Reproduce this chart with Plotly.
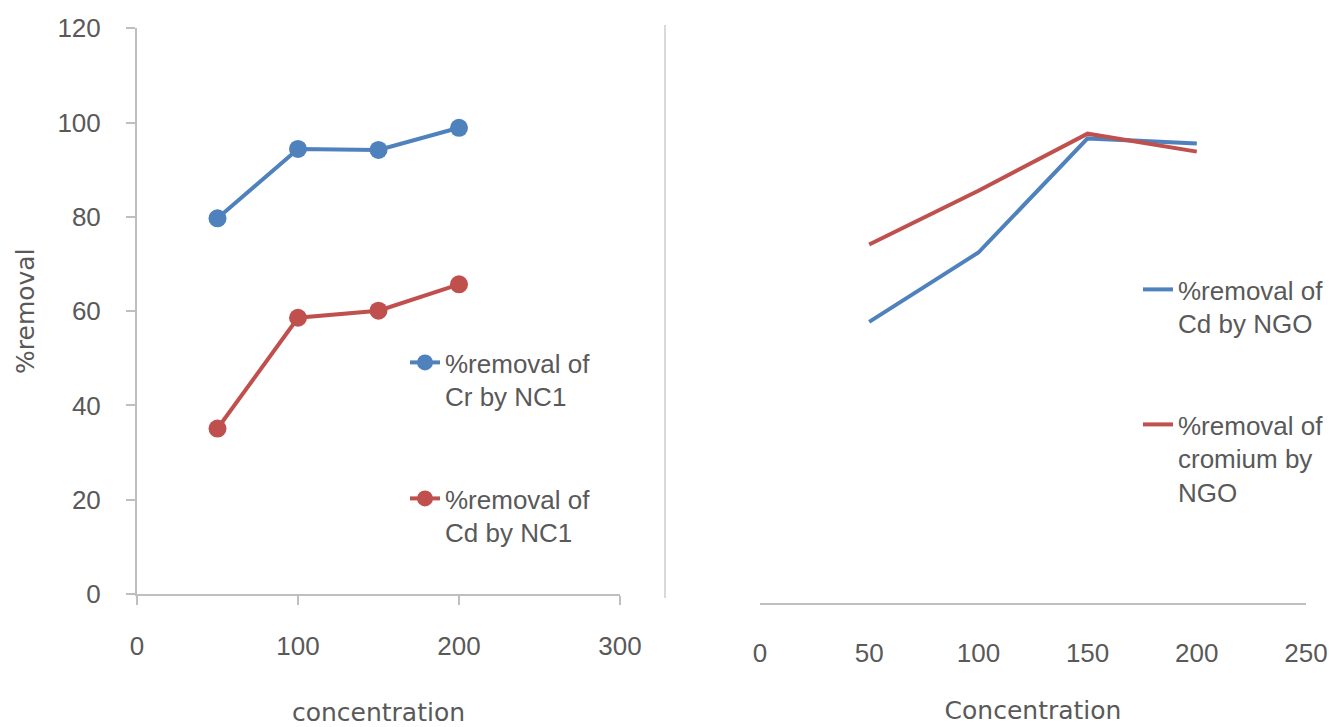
import plotly.graph_objects as go

# Adsorbent NC1 (left panel)
conc_nc1 = [50, 100, 150, 200]
cr_by_nc1 = [79.7, 94.4, 94.2, 98.9]
cd_by_nc1 = [35.1, 58.6, 60.1, 65.7]

# Adsorbent NGO (right panel)
conc_ngo = [50, 100, 150, 200]
cd_by_ngo = [59.6, 74.3, 98.5, 97.4]
cr_by_ngo = [76.0, 87.4, 99.5, 95.7]

left_xticks = [0, 100, 200, 300]
left_yticks = [0, 20, 40, 60, 80, 100, 120]
right_xticks = [0, 50, 100, 150, 200, 250]

W, H = 1329, 727
BLUE = "#4F81BD"
RED = "#C0504D"
TXT = "#595959"
AXC = "#BFBFBF"
NARROW = "Liberation Sans Narrow, Arial Narrow, Liberation Sans, sans-serif"
WIDE = "DejaVu Sans, sans-serif"


def px(x):
    return x / W


def py(y):
    return 1 - y / H


fig = go.Figure()

fig.add_trace(go.Scatter(
    x=conc_nc1, y=cr_by_nc1, mode="lines+markers",
    name="%removal of<br>Cr by NC1",
    line=dict(color=BLUE, width=4), marker=dict(size=18, color=BLUE),
    xaxis="x", yaxis="y", legend="legend",
))
fig.add_trace(go.Scatter(
    x=conc_nc1, y=cd_by_nc1, mode="lines+markers",
    name="%removal of<br>Cd by NC1",
    line=dict(color=RED, width=4), marker=dict(size=18, color=RED),
    xaxis="x", yaxis="y", legend="legend2",
))
fig.add_trace(go.Scatter(
    x=conc_ngo, y=cd_by_ngo, mode="lines",
    name="%removal of<br>Cd by NGO",
    line=dict(color=BLUE, width=4),
    xaxis="x2", yaxis="y2", legend="legend3",
))
fig.add_trace(go.Scatter(
    x=conc_ngo, y=cr_by_ngo, mode="lines",
    name="%removal of<br>cromium by<br>NGO",
    line=dict(color=RED, width=4),
    xaxis="x2", yaxis="y2", legend="legend4",
))

tickfont = dict(family=NARROW, size=26, color=TXT)
titlefont = dict(family=WIDE, size=25, color=TXT)
legfont = dict(family=NARROW, size=26, color=TXT)


def leg(x, y, xanchor="left"):
    return dict(x=x, y=py(y), xanchor=xanchor, yanchor="top",
                font=legfont, bgcolor="rgba(0,0,0,0)", borderwidth=0,
                valign="top", tracegroupgap=0, visible=True)


fig.update_layout(
    width=W, height=H,
    showlegend=True,
    margin=dict(l=0, r=0, t=0, b=0),
    paper_bgcolor="white", plot_bgcolor="white",
    xaxis=dict(
        domain=[px(137), px(620)], range=[0, 300], tickvals=left_xticks,
        showgrid=False, zeroline=False, showline=True, linecolor=AXC, linewidth=2,
        ticks="outside", ticklen=9, tickwidth=2, tickcolor=AXC,
        tickfont=tickfont, ticklabelstandoff=19, automargin=False,
        title=dict(text="concentration", font=titlefont, standoff=52),
        anchor="y",
    ),
    yaxis=dict(
        domain=[py(594), py(28.3)], range=[0, 120], tickvals=left_yticks,
        showgrid=False, zeroline=False, showline=True, linecolor=AXC, linewidth=2,
        ticks="outside", ticklen=9, tickwidth=2, tickcolor=AXC,
        tickfont=tickfont, ticklabelstandoff=20, automargin=False,
        title=dict(text="%removal", font=titlefont, standoff=16),
        anchor="x",
    ),
    xaxis2=dict(
        domain=[px(760), px(1306)], range=[0, 250], tickvals=right_xticks,
        showgrid=False, zeroline=False, showline=True, linecolor=AXC, linewidth=2,
        ticks="", tickfont=tickfont, ticklabelstandoff=26, automargin=False,
        title=dict(text="Concentration", font=titlefont, standoff=34),
        anchor="y2",
    ),
    yaxis2=dict(
        domain=[py(603), py(37)], range=[0, 120], visible=False,
        anchor="x2",
    ),
    legend=leg(px(405), 339),
    legend2=leg(px(405), 475),
    legend3=leg(1.0, 266, "right"),
    legend4=leg(1.0, 401, "right"),
    shapes=[dict(
        type="line", xref="paper", yref="paper",
        x0=px(665), x1=px(665), y0=py(598), y1=py(25),
        line=dict(color="#D9D9D9", width=2),
    )],
)

fig.write_html(
    "out.html",
    post_script=(
        "document.documentElement.style.margin='0';"
        "document.body.style.margin='0';"
        "document.body.style.overflow='hidden';"
        "var gd=document.getElementById('{plot_id}');"
        "gd.style.overflow='hidden';"
    ),
)
